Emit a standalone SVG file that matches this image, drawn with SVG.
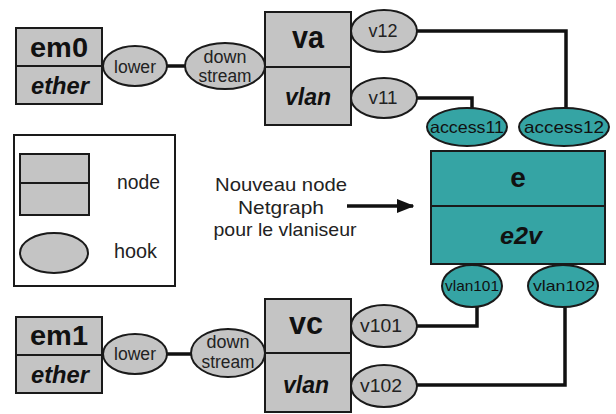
<svg xmlns="http://www.w3.org/2000/svg" width="616" height="414" viewBox="0 0 616 414">
<defs>
<style>
.box{fill:#c4c4c4;stroke:#1a1a1a;stroke-width:2}
.tbox{fill:#35a4a4;stroke:#1a1a1a;stroke-width:2}
.hook{fill:#c4c4c4;stroke:#1a1a1a;stroke-width:2}
.thook{fill:#35a4a4;stroke:#1a1a1a;stroke-width:2}
.div{stroke:#1a1a1a;stroke-width:2}
.name{font-family:"Liberation Sans",Arial,sans-serif;font-weight:bold;font-size:28px;fill:#111;text-anchor:middle}
.type{font-family:"Liberation Sans",Arial,sans-serif;font-weight:bold;font-style:italic;font-size:24px;fill:#111;text-anchor:middle}
.hl{font-family:"Liberation Sans",Arial,sans-serif;font-size:17.5px;fill:#222;text-anchor:middle}
.hs{font-family:"Liberation Sans",Arial,sans-serif;font-size:16.5px;fill:#111;text-anchor:middle}
.lbl{font-family:"Liberation Sans",Arial,sans-serif;font-size:19px;fill:#222;text-anchor:middle}
.leg{font-family:"Liberation Sans",Arial,sans-serif;font-size:19.5px;fill:#222}
.wire{fill:none;stroke:#111;stroke-width:3.5}
</style>
<marker id="ah" markerWidth="5" markerHeight="4" refX="4.6" refY="2" orient="auto" markerUnits="strokeWidth">
<path d="M0,0 L5,2 L0,4 z" fill="#111"/>
</marker>
</defs>
<rect width="616" height="414" fill="#fff"/>

<g id="connectors">
<line class="wire" x1="166" y1="66" x2="187" y2="66"/>
<line class="wire" x1="166" y1="354" x2="192" y2="354"/>
<path class="wire" d="M416,31 H566 V110"/>
<path class="wire" d="M416,98 H472 V110"/>
<path class="wire" d="M416,326 H477 V305"/>
<path class="wire" d="M416,385 H565 V305"/>
<line x1="347" y1="206" x2="413" y2="206" stroke="#111" stroke-width="3.5" marker-end="url(#ah)"/>
</g>

<g id="em0">
<rect class="box" x="16" y="28" width="86" height="76"/>
<line class="div" x1="16" y1="66" x2="102" y2="66"/>
<text class="name" x="59" y="57" textLength="58" lengthAdjust="spacingAndGlyphs">em0</text>
<text class="type" x="60" y="94" textLength="58" lengthAdjust="spacingAndGlyphs">ether</text>
<ellipse class="hook" cx="135" cy="66" rx="32" ry="20"/>
<text class="hl" x="135" y="73" textLength="42" lengthAdjust="spacingAndGlyphs">lower</text>
</g>

<g id="va">
<rect class="box" x="265" y="12" width="86" height="113"/>
<line class="div" x1="265" y1="67" x2="351" y2="67"/>
<text class="name" x="308" y="48" style="font-size:31px" textLength="32" lengthAdjust="spacingAndGlyphs">va</text>
<text class="type" x="308" y="105" textLength="46" lengthAdjust="spacingAndGlyphs">vlan</text>
<ellipse class="hook" cx="225" cy="66" rx="40" ry="23"/>
<text class="hl" x="225" y="63" textLength="43" lengthAdjust="spacingAndGlyphs">down</text>
<text class="hl" x="225" y="82" textLength="53" lengthAdjust="spacingAndGlyphs">stream</text>
<ellipse class="hook" cx="384" cy="31" rx="33" ry="21"/>
<text class="hl" x="383" y="37" textLength="29" lengthAdjust="spacingAndGlyphs">v12</text>
<ellipse class="hook" cx="384" cy="98" rx="33" ry="20"/>
<text class="hl" x="383" y="104" textLength="29" lengthAdjust="spacingAndGlyphs">v11</text>
</g>

<g id="e">
<ellipse class="thook" cx="467" cy="127" rx="40" ry="19"/>
<text class="hs" x="467" y="133" textLength="74" lengthAdjust="spacingAndGlyphs">access11</text>
<ellipse class="thook" cx="564" cy="127" rx="45" ry="19"/>
<text class="hs" x="564" y="133" textLength="80" lengthAdjust="spacingAndGlyphs">access12</text>
<rect class="tbox" x="431" y="151" width="174" height="113"/>
<line class="div" x1="431" y1="206" x2="605" y2="206"/>
<text class="name" x="518" y="187">e</text>
<text class="type" x="521" y="244" textLength="42" lengthAdjust="spacingAndGlyphs">e2v</text>
<ellipse class="thook" cx="472" cy="286" rx="30" ry="21"/>
<text class="hs" x="472" y="291" textLength="54" lengthAdjust="spacingAndGlyphs" style="font-size:15px">vlan101</text>
<ellipse class="thook" cx="563" cy="286" rx="35" ry="21"/>
<text class="hs" x="564" y="291" textLength="62" lengthAdjust="spacingAndGlyphs" style="font-size:15px">vlan102</text>
</g>

<g id="legend">
<rect x="14" y="135" width="161" height="151" fill="#fff" stroke="#1a1a1a" stroke-width="2"/>
<rect class="box" x="20" y="154" width="69" height="61"/>
<line class="div" x1="20" y1="183" x2="89" y2="183"/>
<ellipse class="hook" cx="54" cy="253" rx="34" ry="20"/>
<text class="leg" x="117" y="189" textLength="43" lengthAdjust="spacingAndGlyphs">node</text>
<text class="leg" x="114" y="258" textLength="43" lengthAdjust="spacingAndGlyphs">hook</text>
</g>

<g id="note">
<text class="lbl" x="281" y="191" textLength="132" lengthAdjust="spacingAndGlyphs">Nouveau node</text>
<text class="lbl" x="281" y="214" textLength="86" lengthAdjust="spacingAndGlyphs">Netgraph</text>
<text class="lbl" x="285" y="236" textLength="143" lengthAdjust="spacingAndGlyphs">pour le vlaniseur</text>
</g>

<g id="em1">
<rect class="box" x="16" y="317" width="86" height="76"/>
<line class="div" x1="16" y1="355" x2="102" y2="355"/>
<text class="name" x="59" y="345" textLength="58" lengthAdjust="spacingAndGlyphs">em1</text>
<text class="type" x="60" y="383" textLength="58" lengthAdjust="spacingAndGlyphs">ether</text>
<ellipse class="hook" cx="135" cy="354" rx="32" ry="20"/>
<text class="hl" x="135" y="360" textLength="42" lengthAdjust="spacingAndGlyphs">lower</text>
</g>

<g id="vc">
<rect class="box" x="265" y="299" width="86" height="113"/>
<line class="div" x1="265" y1="353" x2="351" y2="353"/>
<text class="name" x="306" y="334" style="font-size:31px" textLength="34" lengthAdjust="spacingAndGlyphs">vc</text>
<text class="type" x="306" y="393" textLength="46" lengthAdjust="spacingAndGlyphs">vlan</text>
<ellipse class="hook" cx="228" cy="353" rx="37" ry="24"/>
<text class="hl" x="228" y="348" textLength="43" lengthAdjust="spacingAndGlyphs">down</text>
<text class="hl" x="228" y="368" textLength="53" lengthAdjust="spacingAndGlyphs">stream</text>
<ellipse class="hook" cx="384" cy="326" rx="33" ry="21"/>
<text class="hl" x="381" y="332" textLength="42" lengthAdjust="spacingAndGlyphs">v101</text>
<ellipse class="hook" cx="384" cy="386" rx="33" ry="21"/>
<text class="hl" x="381" y="392" textLength="42" lengthAdjust="spacingAndGlyphs">v102</text>
</g>
</svg>
